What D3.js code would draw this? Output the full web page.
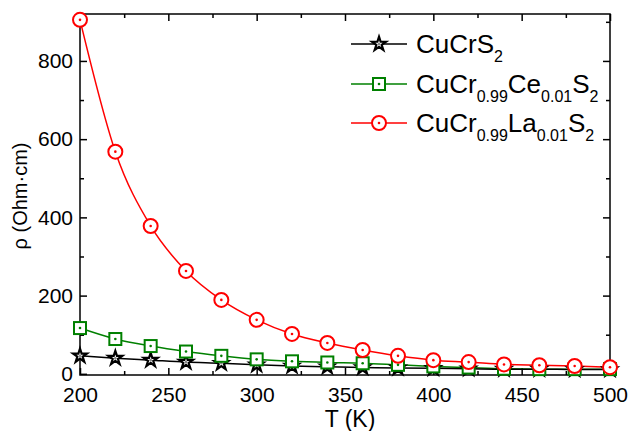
<!doctype html>
<html>
<head>
<meta charset="UTF-8">
<title>Resistivity</title>
<script src="https://d3js.org/d3.v7.min.js"></script>
<style>
	body { margin: 0; background: #fff; }
	.chart text { font-family: "Liberation Sans", Arial, sans-serif; fill: #000; }
	.axis path, .axis line { stroke: #000; stroke-width: 1.5; }
</style>
</head>
<body>
<svg class="chart" width="630" height="431"></svg>
<script>
var temps = [200, 220, 240, 260, 280, 300, 320, 340, 360, 380, 400, 420, 440, 460, 480, 500];
var cucrs2 = [46, 40, 35, 30, 27, 23, 20, 18, 16, 15, 14, 13, 12, 12, 11, 11];
var cuce = [117, 89, 71, 57, 46, 37, 32, 29, 27, 23, 19, 16, 13, 12, 12, 12];
var cula = [905, 568, 378, 263, 189, 138, 102, 79, 61, 46, 35, 30, 24, 22, 20, 17];
var xTicks = [200, 250, 300, 350, 400, 450, 500];
var yTicks = [0, 200, 400, 600, 800];

var chart = d3.select('.chart');
var pl = 80, pr = 610, pt = 14, pb = 375;

var x = d3.scaleLinear().domain([200, 500]).range([pl, pr]);
var y = d3.scaleLinear().domain([-3, 920]).range([pb, pt]);

var xMinor = d3.range(200, 501, 25).filter(function(v) { return v % 50 !== 0; });
var yMinor = d3.range(100, 901, 200);

// frame
chart.append('rect')
	.attr('x', pl).attr('y', pt)
	.attr('width', pr - pl).attr('height', pb - pt)
	.attr('fill', 'none').attr('stroke', '#000').attr('stroke-width', 1.5);

function ticks(g, axisFn, scale, vals, len) {
	g.call(axisFn(scale).tickValues(vals).tickSize(len).tickFormat(''));
	g.select('.domain').remove();
}

// bottom
var gb = chart.append('g').attr('class', 'axis').attr('transform', 'translate(0,' + pb + ')');
gb.call(d3.axisBottom(x).tickValues(xTicks).tickSize(-7).tickPadding(12).tickFormat(d3.format('d')));
gb.select('.domain').remove();
gb.selectAll('text').attr('font-size', 21);
ticks(chart.append('g').attr('class', 'axis').attr('transform', 'translate(0,' + pb + ')'), d3.axisBottom, x, xMinor, -4);
// top
ticks(chart.append('g').attr('class', 'axis').attr('transform', 'translate(0,' + pt + ')'), d3.axisTop, x, xTicks, -7);
ticks(chart.append('g').attr('class', 'axis').attr('transform', 'translate(0,' + pt + ')'), d3.axisTop, x, xMinor, -4);
// left
var gl = chart.append('g').attr('class', 'axis').attr('transform', 'translate(' + pl + ',0)');
gl.call(d3.axisLeft(y).tickValues(yTicks).tickSize(-7).tickPadding(7).tickFormat(d3.format('d')));
gl.select('.domain').remove();
gl.selectAll('text').attr('font-size', 21);
ticks(chart.append('g').attr('class', 'axis').attr('transform', 'translate(' + pl + ',0)'), d3.axisLeft, y, yMinor, -4);
// right
ticks(chart.append('g').attr('class', 'axis').attr('transform', 'translate(' + pr + ',0)'), d3.axisRight, y, yTicks, -7);
ticks(chart.append('g').attr('class', 'axis').attr('transform', 'translate(' + pr + ',0)'), d3.axisRight, y, yMinor, -4);

// axis titles
chart.append('text')
	.attr('x', 350).attr('y', 427)
	.attr('text-anchor', 'middle').attr('font-size', 23)
	.text('T (K)');
chart.append('text')
	.attr('transform', 'translate(27,196) rotate(-90)')
	.attr('text-anchor', 'middle').attr('font-size', 20)
	.text('ρ (Ohm·cm)');

var series = [
	{ vals: cula, color: '#ff0000', shape: 'circle' },
	{ vals: cuce, color: '#008000', shape: 'square' },
	{ vals: cucrs2, color: '#000000', shape: 'star' }
];

var line = d3.line().curve(d3.curveMonotoneX)
	.x(function(d) { return x(d[0]); })
	.y(function(d) { return y(d[1]); });

function marker(g, shape, color) {
	if (shape === 'circle') {
		g.append('circle').attr('r', 7).attr('fill', '#fff').attr('stroke', color).attr('stroke-width', 2);
	} else if (shape === 'square') {
		g.append('rect').attr('x', -6).attr('y', -6).attr('width', 12).attr('height', 12)
			.attr('fill', '#fff').attr('stroke', color).attr('stroke-width', 2);
	} else {
		g.append('path').attr('d', d3.symbol().type(d3.symbolStar).size(60)())
			.attr('fill', '#fff').attr('stroke', color).attr('stroke-width', 2.2).attr('stroke-linejoin', 'miter');
	}
	g.append('circle').attr('r', 1.3).attr('fill', shape === 'star' ? '#888' : color);
}

series.forEach(function(s) {
	var pts = temps.map(function(t, i) { return [t, s.vals[i]]; });
	chart.append('path').datum(pts)
		.attr('d', line).attr('fill', 'none')
		.attr('stroke', s.color).attr('stroke-width', 1.5);
});
series.slice().reverse().forEach(function(s) {
	temps.forEach(function(t, i) {
		var g = chart.append('g').attr('transform', 'translate(' + x(t) + ',' + y(s.vals[i]) + ')');
		marker(g, s.shape, s.color);
	});
});

// legend
var legend = [
	{ shape: 'star', color: '#000000', parts: [['CuCrS', 0], ['2', 1]], ly: 44 },
	{ shape: 'square', color: '#008000', parts: [['CuCr', 0], ['0.99', 1], ['Ce', 0], ['0.01', 1], ['S', 0], ['2', 1]], ly: 84 },
	{ shape: 'circle', color: '#ff0000', parts: [['CuCr', 0], ['0.99', 1], ['La', 0], ['0.01', 1], ['S', 0], ['2', 1]], ly: 123 }
];
legend.forEach(function(l) {
	chart.append('line').attr('x1', 351).attr('x2', 407).attr('y1', l.ly).attr('y2', l.ly)
		.attr('stroke', l.color).attr('stroke-width', 1.5);
	marker(chart.append('g').attr('transform', 'translate(379,' + l.ly + ')'), l.shape, l.color);
	var t = chart.append('text').attr('x', 416).attr('y', l.ly + 9).attr('font-size', 26);
	var sub = false;
	l.parts.forEach(function(p) {
		var ts = t.append('tspan').text(p[0]);
		if (p[1] && !sub) { ts.attr('dy', 9).attr('font-size', 16); sub = true; }
		else if (p[1]) { ts.attr('font-size', 16); }
		else if (sub) { ts.attr('dy', -9); sub = false; }
	});
});
</script>
</body>
</html>
